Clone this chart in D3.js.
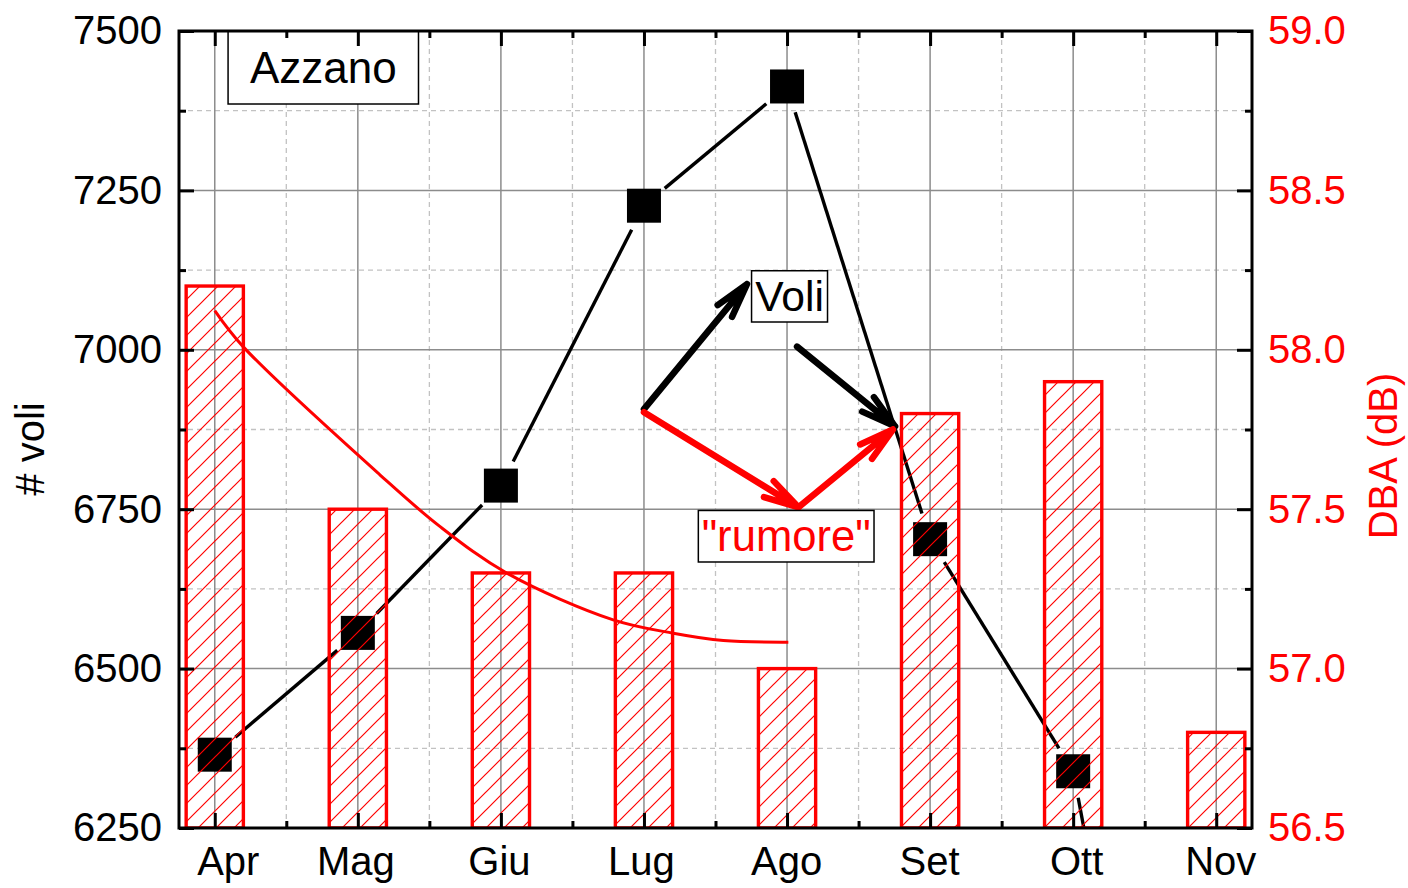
<!DOCTYPE html>
<html>
<head>
<meta charset="utf-8">
<script src="https://cdn.jsdelivr.net/npm/d3@7"></script>
<style>
  html, body { margin: 0; padding: 0; background: #fff; }
  svg { display: block; font-family: "Liberation Sans", Arial, sans-serif; }
</style>
</head>
<body>
<svg id="chart" width="1408" height="888"></svg>
<script>
// ---------------- DATA ----------------
const months = ["Apr", "Mag", "Giu", "Lug", "Ago", "Set", "Ott", "Nov"];
const voli = [6365, 6556, 6787, 7226, 7413, 6703, 6339, 5150];     // left axis, black squares
const dba  = [58.2, 57.5, 57.3, 57.3, 57.0, 57.8, 57.9, 56.8];     // right axis, hatched bars
// red fitted curve (x = month index, y = dB)
const fitX = [0, 0.198, 1.154, 1.573, 2.040, 2.785, 3.205, 3.555, 4.009];
const fitY = [58.123, 58.010, 57.608, 57.446, 57.300, 57.153, 57.111, 57.088, 57.083];
const leftTicks  = [6250, 6500, 6750, 7000, 7250, 7500];
const rightTicks = [56.5, 57.0, 57.5, 58.0, 58.5, 59.0];
// annotation arrows (month index, # voli)
const arrowX0 = [3.0, 4.07, 3.0, 4.08];
const arrowY0 = [6907, 7005, 6902, 6753];
const arrowX1 = [3.72, 4.755, 4.08, 4.74];
const arrowY1 = [7103, 6880, 6753, 6875];
const arrowColor = ["#000", "#000", "#ff0000", "#ff0000"];
// annotation text boxes (month index range, # voli range)
const boxText = ["Azzano", "Voli", "\"rumore\""];
const boxX0 = [0.093, 3.752, 3.380];
const boxX1 = [1.424, 4.283, 4.608];
const boxY0 = [7500, 7124, 6748];
const boxY1 = [7385.5, 7043.6, 6667.2];
const boxColor = ["#000", "#000", "#ff0000"];

// ---------------- LAYOUT ----------------
const L = 179, R = 1252, T = 31, B = 828;
const svg = d3.select("#chart");
const x = d3.scaleLinear().domain([-0.25, 7.25]).range([L, R]);
const yL = d3.scaleLinear().domain([6250, 7500]).range([B, T]);
const yR = d3.scaleLinear().domain([56.5, 59.0]).range([B, T]);
const FS = 40;

// pattern
const defs = svg.append("defs");
const pat = defs.append("pattern").attr("id", "hatch").attr("patternUnits", "userSpaceOnUse")
  .attr("width", 18).attr("height", 18);
pat.append("path").attr("d", "M-4.5,4.5 L4.5,-4.5 M0,18 L18,0 M13.5,22.5 L22.5,13.5")
  .attr("stroke", "#ff0000").attr("stroke-width", 1.2).attr("fill", "none");
defs.append("clipPath").attr("id", "clip").append("rect")
  .attr("x", L).attr("y", T).attr("width", R - L).attr("height", B - T);

// ---------------- GRID ----------------
const grid = svg.append("g");
const majX = d3.range(0, 8), minX = d3.range(0.5, 7, 1);
const majY = leftTicks, minY = d3.range(6375, 7500, 250);
grid.selectAll(".gxm").data(minX).join("line")
  .attr("x1", d => x(d)).attr("x2", d => x(d)).attr("y1", T).attr("y2", B)
  .attr("stroke", "#c2c2c2").attr("stroke-width", 1.3).attr("stroke-dasharray", "5,4");
grid.selectAll(".gym").data(minY).join("line")
  .attr("y1", d => yL(d)).attr("y2", d => yL(d)).attr("x1", L).attr("x2", R)
  .attr("stroke", "#c2c2c2").attr("stroke-width", 1.3).attr("stroke-dasharray", "5,4");
grid.selectAll(".gxM").data(majX).join("line")
  .attr("x1", d => x(d)).attr("x2", d => x(d)).attr("y1", T).attr("y2", B)
  .attr("stroke", "#8c8c8c").attr("stroke-width", 1.5);
grid.selectAll(".gyM").data(majY).join("line")
  .attr("y1", d => yL(d)).attr("y2", d => yL(d)).attr("x1", L).attr("x2", R)
  .attr("stroke", "#8c8c8c").attr("stroke-width", 1.5);

// ---------------- BLACK LINE + MARKERS ----------------
const plot = svg.append("g").attr("clip-path", "url(#clip)");
const gap = 27;
const segs = d3.range(voli.length - 1).map(i => {
  const ax = x(i), ay = yL(voli[i]), bx = x(i + 1), by = yL(voli[i + 1]);
  const dx = bx - ax, dy = by - ay, len = Math.hypot(dx, dy);
  const ux = dx / len, uy = dy / len;
  return [ax + ux * gap, ay + uy * gap, bx - ux * gap, by - uy * gap];
});
plot.selectAll(".seg").data(segs).join("line")
  .attr("x1", d => d[0]).attr("y1", d => d[1]).attr("x2", d => d[2]).attr("y2", d => d[3])
  .attr("stroke", "#000").attr("stroke-width", 3.4);
const MS = 34;
plot.selectAll(".mk").data(voli).join("rect")
  .attr("x", (d, i) => x(i) - MS / 2).attr("y", d => yL(d) - MS / 2)
  .attr("width", MS).attr("height", MS).attr("fill", "#000");

// ---------------- BARS ----------------
const bw = 0.4 * (x(1) - x(0));
plot.selectAll(".bar").data(dba).join("rect")
  .attr("x", (d, i) => x(i) - bw / 2).attr("y", d => yR(d))
  .attr("width", bw).attr("height", d => B - yR(d))
  .attr("fill", "url(#hatch)").attr("stroke", "#ff0000").attr("stroke-width", 3.4);

// ---------------- FIT CURVE ----------------
plot.append("path").datum(fitX.map((v, i) => [v, fitY[i]]))
  .attr("d", d3.line().x(d => x(d[0])).y(d => yR(d[1])).curve(d3.curveCatmullRom.alpha(0.5)))
  .attr("fill", "none").attr("stroke", "#ff0000").attr("stroke-width", 3);

// ---------------- ARROWS ----------------
const arrows = svg.append("g");
arrowX0.forEach((v, i) => {
  const x0 = x(v), y0 = yL(arrowY0[i]), x1 = x(arrowX1[i]), y1 = yL(arrowY1[i]);
  const ang = Math.atan2(y0 - y1, x0 - x1);
  const a = 15 * Math.PI / 180, hl = 36;
  const p = d3.path();
  p.moveTo(x0, y0); p.lineTo(x1, y1);
  p.moveTo(x1 + hl * Math.cos(ang + a), y1 + hl * Math.sin(ang + a));
  p.lineTo(x1, y1);
  p.lineTo(x1 + hl * Math.cos(ang - a), y1 + hl * Math.sin(ang - a));
  arrows.append("path").attr("d", p.toString()).attr("fill", "none")
    .attr("stroke", arrowColor[i]).attr("stroke-width", 6.5)
    .attr("stroke-linecap", "round").attr("stroke-linejoin", "round");
});

// ---------------- TEXT BOXES ----------------
const boxFS = [44, 42.6, 43.6];
boxText.forEach((t, i) => {
  const bx0 = x(boxX0[i]), bx1 = x(boxX1[i]), by0 = yL(boxY0[i]), by1 = yL(boxY1[i]);
  svg.append("rect").attr("x", bx0).attr("y", by0).attr("width", bx1 - bx0).attr("height", by1 - by0)
    .attr("fill", "#fff").attr("stroke", "#000").attr("stroke-width", 1.5);
  svg.append("text").attr("x", (bx0 + bx1) / 2).attr("y", (by0 + by1) / 2).attr("dy", "0.35em")
    .attr("text-anchor", "middle").attr("font-size", boxFS[i]).attr("fill", boxColor[i]).text(t);
});

// ---------------- AXES ----------------
function styleAxis(g, color) {
  g.select(".domain").remove();
  g.selectAll(".tick line").attr("stroke", "#000").attr("stroke-width", 3);
  g.selectAll(".tick text").attr("font-size", FS).attr("fill", color)
    .attr("font-family", "\"Liberation Sans\", Arial, sans-serif");
}
// bottom
const nudge = [13, -2.5, -2, -3, -1, -1, 3, 4];
const gb = svg.append("g").attr("transform", `translate(0,${B})`)
  .call(d3.axisBottom(x).tickValues(majX).tickSize(-15).tickPadding(19).tickFormat(i => months[i]));
styleAxis(gb, "#000");
gb.selectAll(".tick text").attr("dx", (d, i) => nudge[i]);
const gbm = svg.append("g").attr("transform", `translate(0,${B})`)
  .call(d3.axisBottom(x).tickValues(minX).tickSize(-7).tickFormat(""));
styleAxis(gbm, "#000");
// top
const gt = svg.append("g").attr("transform", `translate(0,${T})`)
  .call(d3.axisTop(x).tickValues(majX).tickSize(-15).tickFormat(""));
styleAxis(gt, "#000");
const gtm = svg.append("g").attr("transform", `translate(0,${T})`)
  .call(d3.axisTop(x).tickValues(minX).tickSize(-7).tickFormat(""));
styleAxis(gtm, "#000");
// left
const gl = svg.append("g").attr("transform", `translate(${L},0)`)
  .call(d3.axisLeft(yL).tickValues(leftTicks).tickSize(-15).tickPadding(17).tickFormat(d3.format("d")));
styleAxis(gl, "#000");
gl.selectAll(".tick text").attr("dy", "0.32em");
const glm = svg.append("g").attr("transform", `translate(${L},0)`)
  .call(d3.axisLeft(yL).tickValues(minY).tickSize(-7).tickFormat(""));
styleAxis(glm, "#000");
// right
const gr = svg.append("g").attr("transform", `translate(${R},0)`)
  .call(d3.axisRight(yR).tickValues(rightTicks).tickSize(-15).tickPadding(16).tickFormat(d3.format(".1f")));
styleAxis(gr, "#ff0000");
gr.selectAll(".tick text").attr("dy", "0.32em");
const grm = svg.append("g").attr("transform", `translate(${R},0)`)
  .call(d3.axisRight(yR).tickValues(d3.range(56.75, 59, 0.5)).tickSize(-7).tickFormat(""));
styleAxis(grm, "#000");

// frame
svg.append("rect").attr("x", L).attr("y", T).attr("width", R - L).attr("height", B - T)
  .attr("fill", "none").attr("stroke", "#000").attr("stroke-width", 3);

// titles
svg.append("text").attr("transform", `translate(44,449) rotate(-90)`)
  .attr("text-anchor", "middle").attr("font-size", FS).attr("fill", "#000").text("# voli");
svg.append("text").attr("transform", `translate(1397,456) rotate(-90)`)
  .attr("text-anchor", "middle").attr("font-size", FS).attr("fill", "#ff0000").text("DBA (dB)");
</script>
</body>
</html>
